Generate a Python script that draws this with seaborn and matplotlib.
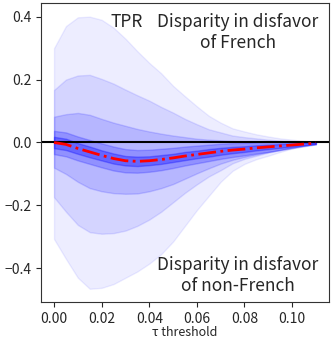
import numpy as np
import pandas as pd
import matplotlib
matplotlib.use("Agg")
import matplotlib.pyplot as plt
import seaborn as sns

# tau thresholds
tau = [0.000, 0.005, 0.010, 0.015, 0.020, 0.025, 0.030, 0.035, 0.040, 0.045, 0.050, 0.055,
       0.060, 0.065, 0.070, 0.075, 0.080, 0.085, 0.090, 0.095, 0.100, 0.105, 0.110]

# mean TPR disparity
mean_disp = [0.000, -0.006, -0.019, -0.030, -0.041, -0.051, -0.058, -0.060, -0.058, -0.054, -0.049, -0.043,
             -0.038, -0.033, -0.028, -0.024, -0.021, -0.017, -0.014, -0.011, -0.008, -0.005, -0.002]

# bands, outermost first (upper / lower edges)
upper_1 = [0.300, 0.370, 0.398, 0.400, 0.390, 0.365, 0.330, 0.290, 0.253, 0.220, 0.180, 0.147,
           0.115, 0.085, 0.063, 0.045, 0.035, 0.026, 0.019, 0.013, 0.009, 0.005, 0.000]
lower_1 = [-0.307, -0.370, -0.430, -0.465, -0.462, -0.450, -0.430, -0.410, -0.385, -0.355, -0.315, -0.265,
           -0.215, -0.170, -0.125, -0.090, -0.068, -0.053, -0.042, -0.030, -0.019, -0.010, -0.004]
upper_2 = [0.167, 0.200, 0.213, 0.215, 0.202, 0.187, 0.168, 0.150, 0.133, 0.113, 0.095, 0.075,
           0.058, 0.042, 0.032, 0.022, 0.017, 0.013, 0.009, 0.006, 0.004, 0.002, 0.000]
lower_2 = [-0.174, -0.220, -0.262, -0.285, -0.290, -0.288, -0.280, -0.265, -0.245, -0.220, -0.190, -0.160,
           -0.133, -0.108, -0.088, -0.066, -0.052, -0.042, -0.032, -0.024, -0.016, -0.009, -0.004]
upper_3 = [0.082, 0.090, 0.094, 0.088, 0.075, 0.063, 0.053, 0.043, 0.035, 0.028, 0.022, 0.017,
           0.012, 0.009, 0.007, 0.005, 0.004, 0.003, 0.002, 0.001, 0.001, 0.000, 0.000]
lower_3 = [-0.080, -0.100, -0.125, -0.145, -0.155, -0.161, -0.163, -0.162, -0.155, -0.145, -0.132, -0.115,
           -0.098, -0.082, -0.067, -0.055, -0.046, -0.038, -0.030, -0.023, -0.016, -0.010, -0.005]
upper_4 = [0.037, 0.032, 0.019, 0.008, -0.003, -0.013, -0.021, -0.024, -0.023, -0.020, -0.017, -0.013,
           -0.010, -0.007, -0.004, -0.002, -0.001, 0.001, 0.002, 0.002, 0.002, 0.002, 0.002]
lower_4 = [-0.037, -0.044, -0.057, -0.068, -0.079, -0.089, -0.095, -0.096, -0.093, -0.088, -0.081, -0.073,
           -0.066, -0.059, -0.052, -0.046, -0.041, -0.035, -0.030, -0.024, -0.018, -0.012, -0.006]
upper_5 = [0.018, 0.012, -0.002, -0.013, -0.025, -0.035, -0.043, -0.045, -0.044, -0.040, -0.036, -0.030,
           -0.026, -0.021, -0.017, -0.014, -0.012, -0.009, -0.007, -0.005, -0.003, -0.001, 0.001]
lower_5 = [-0.018, -0.024, -0.036, -0.047, -0.057, -0.067, -0.073, -0.075, -0.072, -0.068, -0.062, -0.056,
           -0.050, -0.045, -0.039, -0.034, -0.030, -0.025, -0.021, -0.017, -0.013, -0.009, -0.005]

sns.set_style("ticks")
plt.rcParams['font.family'] = ['Noto Sans CJK JP', 'DejaVu Sans']

df = pd.DataFrame({'tau': tau, 'mean': mean_disp})

fig, ax = plt.subplots(figsize=(3.33, 3.39), dpi=100)
fig.subplots_adjust(left=0.123, right=0.988, top=0.991, bottom=0.108)

bands = [(upper_1, lower_1), (upper_2, lower_2), (upper_3, lower_3), (upper_4, lower_4), (upper_5, lower_5)]
alphas = [0.07, 0.10, 0.14, 0.20, 0.30]
for (up, lo), a in zip(bands, alphas):
    ax.fill_between(tau, lo, up, color='blue', alpha=a)

ax.axhline(0, color='black', lw=1.5)
sns.lineplot(data=df, x='tau', y='mean', color='red', linestyle='-.', lw=2, ax=ax)

ax.set_xticks([0.0, 0.02, 0.04, 0.06, 0.08, 0.10])
ax.set_yticks([-0.4, -0.2, 0.0, 0.2, 0.4])
ax.tick_params(labelsize=10, length=3.5)
ax.set_xlabel("τ threshold", fontsize=9, labelpad=0)
ax.set_ylabel("")

ax.text(0.24, 0.966, "TPR", transform=ax.transAxes, fontsize=12.5, va='top', ha='left')
ax.text(0.684, 0.966, "Disparity in disfavor\nof French", transform=ax.transAxes,
        fontsize=12.5, va='top', ha='center', linespacing=1.2)
ax.text(0.684, 0.025, "Disparity in disfavor\nof non-French", transform=ax.transAxes,
        fontsize=12.5, va='bottom', ha='center', linespacing=1.2)

for s in ax.spines.values():
    s.set_color('#333333')

fig.savefig("out.png", dpi=100)
